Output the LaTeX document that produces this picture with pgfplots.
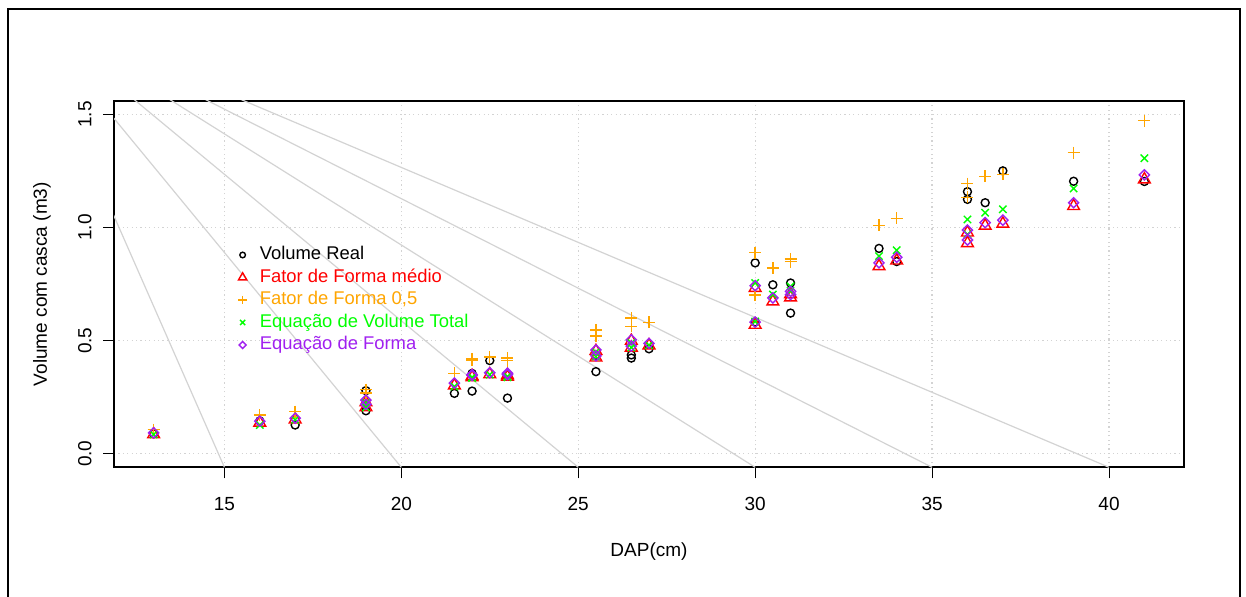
\documentclass[border=0pt]{standalone}
\usepackage{fontspec}
\setmainfont{Liberation Sans}
\usepackage{pgfplots}
\pgfplotsset{compat=1.18}
\definecolor{rred}{HTML}{FF0000}
\definecolor{rorange}{HTML}{FFA500}
\definecolor{rgreen}{HTML}{00FF00}
\definecolor{rpurple}{HTML}{A020F0}
\definecolor{rgray}{HTML}{D3D3D3}
\begin{document}
\fontsize{9.5}{11}\selectfont
\begin{tikzpicture}[x=1pt,y=1pt]
\useasboundingbox (0,0) rectangle (623,298.5);
\draw[line width=1pt] (4,-2) -- (4,294) -- (620,294) -- (620,-2);
\begin{axis}[
  at={(57pt,64.85pt)}, anchor=south west,
  scale only axis, width=535pt, height=183.15pt,
  xmin=11.88, xmax=42.12, ymin=-0.06, ymax=1.56,
  xtick={15,20,25,30,35,40}, ytick={0,0.5,1,1.5},
  tick pos=left, tick align=outside,
  major tick length=5.5pt,
  tick style={black, line width=0.5pt},
  axis line style={black, line width=0.8pt},
  grid=major,
  grid style={rgray, line width=0.6pt, dash pattern=on 0.6pt off 1.6pt},
  /pgf/number format/assume math mode=true,
  xticklabel style={anchor=base, yshift=-15.9pt, font=\fontsize{9.5}{11}\selectfont},
  yticklabel style={xshift=-5.8pt, rotate=90, anchor=base, font=\fontsize{9.5}{11}\selectfont,
    /pgf/number format/.cd, fixed, fixed zerofill, precision=1},
  xlabel={DAP(cm)},
  ylabel={Volume com casca (m3)},
  xlabel style={at={(axis description cs:0.5,-0.243)}, anchor=base, font=\fontsize{9.5}{11}\selectfont},
  ylabel style={at={(axis description cs:-0.0673,0.5)}, anchor=center, rotate=0, font=\fontsize{9.5}{11}\selectfont},
  legend style={draw=none, fill=none, inner sep=0pt, outer sep=0pt,
    at={(axis description cs:0.1163,0.6103)}, anchor=north west,
    font=\fontsize{9.2}{10}\selectfont, row sep=0pt, column sep=5.5pt,
    nodes={inner sep=1pt, text height=7pt, text depth=2.25pt}},
  legend cell align=left,
  legend image code/.code={\draw[mark repeat=2, mark phase=2, #1, /tikz/every mark/.append style={scale=0.7}] plot coordinates {(0pt,0pt) (8.5pt,0pt) (17pt,0pt)};},
]
% gray fan lines
\addplot[rgray, line width=0.6pt, forget plot] coordinates {(9.28,1.977) (15,-0.06)};
\addplot[rgray, line width=0.6pt, forget plot] coordinates {(9.28,1.977) (20,-0.06)};
\addplot[rgray, line width=0.6pt, forget plot] coordinates {(9.28,1.977) (25,-0.06)};
\addplot[rgray, line width=0.6pt, forget plot] coordinates {(9.28,1.977) (30,-0.06)};
\addplot[rgray, line width=0.6pt, forget plot] coordinates {(9.28,1.977) (35,-0.06)};
\addplot[rgray, line width=0.6pt, forget plot] coordinates {(9.28,1.977) (40,-0.06)};
% Volume Real
\addplot[only marks, black, mark=o, mark size=2pt, line width=0.7pt] coordinates {
(13,0.088)(16,0.145)(17,0.127)(19,0.279)(19,0.190)(21.5,0.267)(22,0.355)(22,0.277)(22.5,0.412)(23,0.350)(23,0.246)(25.5,0.363)(25.5,0.435)(26.5,0.437)(26.5,0.423)(27,0.464)(30,0.844)(30,0.583)(30.5,0.747)(31,0.755)(31,0.622)(33.5,0.908)(34,0.850)(36,1.159)(36,1.125)(36.5,1.110)(37,1.251)(39,1.205)(41,1.204)};
\addlegendentry{Volume Real}
% Fator de Forma medio
\addplot[only marks, rred, mark=triangle, mark size=3.4pt, line width=0.7pt] coordinates {
(13,0.086)(16,0.137)(17,0.151)(19,0.227)(19,0.205)(21.5,0.302)(22,0.343)(22,0.338)(22.5,0.351)(23,0.340)(23,0.347)(25.5,0.454)(25.5,0.425)(26.5,0.499)(26.5,0.469)(27,0.479)(30,0.733)(30,0.570)(30.5,0.673)(31,0.705)(31,0.691)(33.5,0.829)(34,0.854)(36,0.978)(36,0.931)(36.5,1.008)(37,1.017)(39,1.095)(41,1.213)};
\addlegendentry{\textcolor{rred}{Fator de Forma médio}}
% Fator de Forma 0,5
\addplot[only marks, rorange, mark=+, mark size=3pt, line width=0.7pt] coordinates {
(13,0.107)(16,0.171)(17,0.186)(19,0.283)(19,0.268)(21.5,0.356)(22,0.420)(22,0.415)(22.5,0.427)(23,0.412)(23,0.423)(25.5,0.548)(25.5,0.521)(26.5,0.600)(26.5,0.563)(27,0.581)(30,0.889)(30,0.702)(30.5,0.822)(31,0.862)(31,0.850)(33.5,1.010)(34,1.041)(36,1.195)(36,1.134)(36.5,1.227)(37,1.236)(39,1.332)(41,1.473)};
\addlegendentry{\textcolor{rorange}{Fator de Forma 0,5}}
% Equacao de Volume Total
\addplot[only marks, rgreen, mark=x, mark size=2.6pt, line width=0.7pt] coordinates {
(13,0.085)(16,0.127)(17,0.150)(19,0.225)(19,0.205)(21.5,0.297)(22,0.335)(22,0.338)(22.5,0.350)(23,0.338)(23,0.342)(25.5,0.450)(25.5,0.430)(26.5,0.490)(26.5,0.470)(27,0.480)(30,0.755)(30,0.585)(30.5,0.704)(31,0.740)(31,0.720)(33.5,0.874)(34,0.900)(36,1.036)(36,0.970)(36.5,1.066)(37,1.081)(39,1.173)(41,1.307)};
\addlegendentry{\textcolor{rgreen}{Equação de Volume Total}}
% Equacao de Forma
\addplot[only marks, rpurple, mark=square, mark size=1.8pt, mark options={rotate=45}, line width=0.7pt] coordinates {
(13,0.092)(16,0.144)(17,0.157)(19,0.237)(19,0.218)(21.5,0.312)(22,0.350)(22,0.346)(22.5,0.358)(23,0.350)(23,0.356)(25.5,0.459)(25.5,0.433)(26.5,0.504)(26.5,0.476)(27,0.488)(30,0.743)(30,0.582)(30.5,0.689)(31,0.718)(31,0.704)(33.5,0.844)(34,0.869)(36,0.989)(36,0.945)(36.5,1.022)(37,1.033)(39,1.110)(41,1.233)};
\addlegendentry{\textcolor{rpurple}{Equação de Forma}}
\end{axis}
\end{tikzpicture}
\end{document}
